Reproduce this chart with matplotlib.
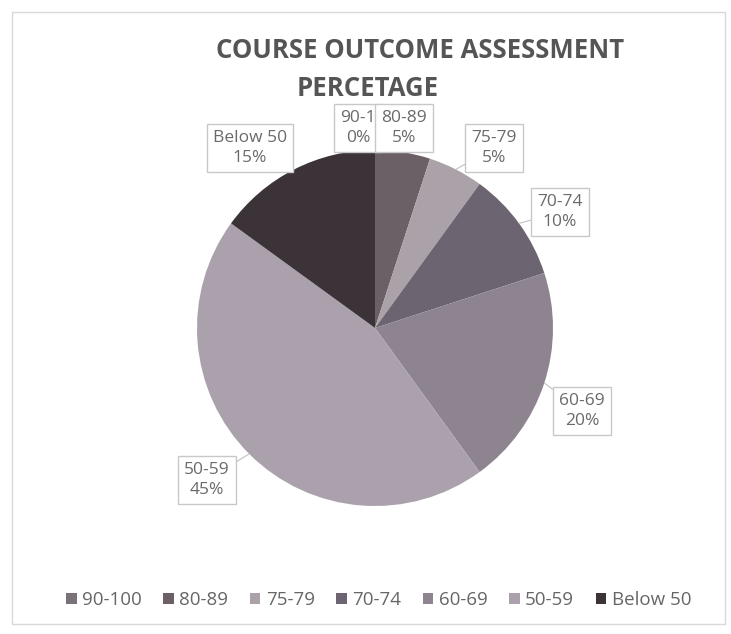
import matplotlib
matplotlib.use("Agg")
import matplotlib.pyplot as plt
from matplotlib.patches import Rectangle
import numpy as np

categories = ["90-100", "80-89", "75-79", "70-74", "60-69", "50-59", "Below 50"]
values = [0, 5, 5, 10, 20, 45, 15]
label_texts = ["90-1\n0%", "80-89\n5%", "75-79\n5%", "70-74\n10%", "60-69\n20%", "50-59\n45%", "Below 50\n15%"]
colors = ["#7a7278", "#6a6066", "#aaa2a8", "#6c6470", "#8d8490", "#aba1ad", "#3b3338"]
label_pos = [(-0.096, 1.124), (0.163, 1.124), (0.669, 1.011), (1.039, 0.652),
             (1.163, -0.466), (-0.944, -0.854), (-0.702, 1.011)]

W, H = 731, 634
fig = plt.figure(figsize=(W/100, H/100), dpi=100)
fig.patch.set_facecolor("white")
fig.patches.append(Rectangle((12/W, 10/H), 713/W, 612/H, transform=fig.transFigure,
                             fill=False, edgecolor="#d8d8d8", lw=1))

cx, cy, r = 375, 328, 178
ax = fig.add_axes([(cx - r)/W, (H - cy - r)/H, 2*r/W, 2*r/H])
wedges, _ = ax.pie(values, colors=colors, startangle=90, counterclock=False,
                   wedgeprops=dict(linewidth=0))
ax.set_xlim(-1, 1)
ax.set_ylim(-1, 1)
ax.axis("off")

font = "Open Sans"
theta = 90.0
for v, txt, pos in zip(values, label_texts, label_pos):
    mid = np.deg2rad(theta - v * 3.6 / 2)
    theta -= v * 3.6
    edge = (np.cos(mid), np.sin(mid))
    ax.annotate(txt, xy=edge, xytext=pos, ha="center", va="center",
                fontsize=12.5, color="#6a6a6a", family=font, linespacing=1.35,
                annotation_clip=False,
                bbox=dict(boxstyle="square,pad=0.35", fc="white", ec="#c8c8c8", lw=1),
                arrowprops=dict(arrowstyle="-", color="#c0c0c0", lw=0.8,
                                shrinkA=0, shrinkB=0))

fig.text(0.574, 1 - 50/H, "COURSE OUTCOME ASSESSMENT", ha="center", va="center",
         fontsize=18.5, fontweight="bold", color="#555555", family=font)
fig.text(0.503, 1 - 88/H, "PERCETAGE", ha="center", va="center",
         fontsize=18.5, fontweight="bold", color="#555555", family=font)

handles = [Rectangle((0, 0), 1, 1, fc=c, ec="none") for c in colors]
fig.legend(handles, categories, loc="center", bbox_to_anchor=(0.518, 1 - 600/H),
           ncol=7, frameon=False, handlelength=0.55, handleheight=0.55,
           handletextpad=0.3, columnspacing=1.15,
           prop=dict(family=font, size=13.5), labelcolor="#666666")

fig.savefig("out.png", dpi=100, facecolor="white")
